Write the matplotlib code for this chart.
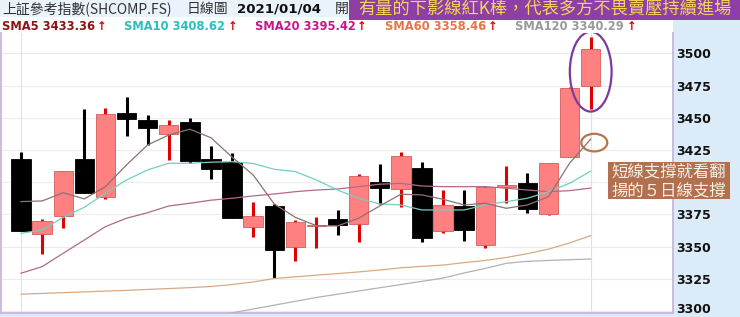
import matplotlib
matplotlib.use('Agg')
import matplotlib.pyplot as plt
from matplotlib.patches import Rectangle, Ellipse
from matplotlib.transforms import ScaledTranslation
import numpy as np

# ---------------- data ----------------
opens = [3417.8, 3359.8, 3373.8, 3418.0, 3388.7, 3453.5, 3448.3, 3437.2, 3446.5, 3417.8,
         3415.9, 3365.5, 3381.5, 3349.9, 3365.8, 3371.2, 3367.3, 3400.4, 3394.5, 3411.3,
         3362.3, 3381.8, 3351.2, 3396.2, 3399.1, 3375.1, 3419.8, 3475.0]
highs = [3423.7, 3371.4, 3408.7, 3457.1, 3457.6, 3465.9, 3452.2, 3448.3, 3449.6, 3428.3,
         3422.9, 3384.9, 3383.1, 3370.7, 3373.2, 3378.4, 3406.1, 3413.9, 3423.7, 3415.4,
         3393.9, 3393.9, 3397.0, 3412.6, 3406.9, 3414.7, 3474.2, 3512.5]
lows = [3362.1, 3344.3, 3364.2, 3391.4, 3387.0, 3435.9, 3428.9, 3417.2, 3414.7, 3402.7,
        3371.9, 3357.7, 3325.4, 3338.8, 3348.7, 3359.0, 3353.8, 3383.1, 3381.0, 3353.8,
        3360.3, 3354.3, 3348.7, 3383.6, 3376.3, 3374.3, 3419.8, 3456.8]
closes = [3362.1, 3369.6, 3408.7, 3391.4, 3452.7, 3449.1, 3442.3, 3444.4, 3416.5, 3410.2,
          3371.9, 3373.8, 3347.4, 3369.3, 3366.6, 3366.8, 3405.0, 3395.3, 3420.6, 3356.9,
          3382.3, 3362.9, 3396.0, 3396.8, 3379.0, 3414.7, 3473.4, 3503.4]

sma5 = [3384.9, 3385.4, 3391.8, 3387.0, 3396.5, 3413.4, 3428.9, 3436.6, 3441.1, 3434.5,
        3419.5, 3405.6, 3383.1, 3372.7, 3366.2, 3366.0, 3372.0, 3381.5, 3390.6, 3390.1,
        3386.7, 3382.3, 3383.6, 3379.7, 3382.3, 3388.7, 3414.7, 3433.4]
sma10 = [3360.3, 3362.9, 3372.7, 3380.5, 3391.4, 3401.7, 3409.5, 3414.7, 3414.7, 3415.5,
         3415.9, 3414.5, 3410.0, 3408.2, 3401.7, 3393.9, 3387.5, 3383.1, 3382.3, 3378.4,
         3378.4, 3378.4, 3382.3, 3384.9, 3387.5, 3392.6, 3399.1, 3408.6]
sma20 = [3329.3, 3334.4, 3344.8, 3355.1, 3365.5, 3372.0, 3376.3, 3381.5, 3383.6, 3386.0,
         3387.5, 3389.3, 3390.8, 3392.6, 3393.9, 3394.7, 3396.5, 3398.4, 3399.1, 3397.0,
         3396.5, 3396.5, 3396.5, 3395.3, 3393.9, 3392.6, 3393.4, 3395.4]
sma60 = [3313.0, 3313.6, 3314.2, 3314.8, 3315.4, 3316.0, 3316.7, 3317.4, 3318.1, 3319.0,
         3320.5, 3322.5, 3325.2, 3326.5, 3327.8, 3329.0, 3330.3, 3331.8, 3333.5, 3334.6,
         3335.6, 3337.5, 3339.2, 3341.5, 3344.5, 3348.0, 3352.8, 3358.5]
sma120 = [3270.0, 3273.0, 3276.0, 3279.0, 3282.0, 3285.0, 3288.0, 3291.0, 3294.0, 3296.0,
          3298.5, 3301.5, 3304.5, 3307.5, 3310.5, 3313.0, 3315.5, 3318.0, 3320.5, 3323.0,
          3325.5, 3329.5, 3333.0, 3337.0, 3338.5, 3339.2, 3339.8, 3340.3]

yticks = [3300, 3325, 3350, 3375, 3400, 3425, 3450, 3475, 3500]
ytick_labels = ["3300", "3325", "3350", "3375", "", "3425", "3450", "3475", "3500"]  # 3400 hidden under note box

title_text = "上証參考指數(SHCOMP.FS)"
chart_type = "日線圖"
date_text = "2021/01/04"
open_text = "開"
banner_text = "有量的下影線紅K棒，代表多方不畏賣壓持續進場"
note_lines = ["短線支撐就看翻", "揚的５日線支撐"]
sma_labels = ["SMA5 3433.36", "SMA10 3408.62", "SMA20 3395.42", "SMA60 3358.46", "SMA120 3340.29"]

# ---------------- styling ----------------
plt.rcParams['font.family'] = ['DejaVu Sans', 'Noto Sans CJK TC']
CJK = ['Noto Sans CJK TC', 'DejaVu Sans']

W, H = 740, 317
fig = plt.figure(figsize=(W / 100, H / 100), dpi=100)
fig.patch.set_facecolor('white')


def fx(x):
    return x / W


def fy(y):
    return 1 - y / H


def frect(x0, y0, x1, y1, **kw):
    r = Rectangle((fx(x0), fy(y1)), fx(x1) - fx(x0), fy(y0) - fy(y1),
                  transform=fig.transFigure, **kw)
    fig.add_artist(r)
    return r


# background panels
frect(0, 0, 740, 17, facecolor='#eaf3fb', edgecolor='none', zorder=0)
frect(673, 17, 740, 317, facecolor='#dcebf8', edgecolor='none', zorder=0)
frect(0, 313, 740, 317, facecolor='#dcebf8', edgecolor='none', zorder=0)

ax = fig.add_axes([fx(1), fy(312.5), fx(673) - fx(1), fy(33) - fy(312.5)])
ax.set_facecolor('white')
ax.set_xlim(-0.95, 30.9)
ax.set_ylim(3298.8, 3515.8)

for s in ['left', 'right', 'bottom']:
    ax.spines[s].set_color('#cbb4db')
    ax.spines[s].set_linewidth(1.3)
ax.spines['top'].set_visible(False)

ax.yaxis.tick_right()
ax.set_yticks(yticks)
ax.set_yticklabels(ytick_labels, fontweight='bold', fontsize=9, color='#111111')
ax.tick_params(axis='y', length=0, pad=2.5)
# lift the bottom label slightly so it stays inside the image
lbl0 = ax.get_yticklabels()[0]
lbl0.set_transform(lbl0.get_transform() + ScaledTranslation(0, 2 / 72, fig.dpi_scale_trans))
ax.set_xticks([])
for v in yticks:
    ax.axhline(v, color='#ececec', lw=0.8, zorder=0)
ax.axvline(0, color='#e0e0ea', lw=0.8, zorder=0)
ax.axvline(len(closes) - 1, color='#e0e0ea', lw=0.8, zorder=0)

x = np.arange(len(closes))
o = np.array(opens)
c = np.array(closes)
hi = np.array(highs)
lo = np.array(lows)
up = c >= o

wick_colors = np.where(up, '#e00000', '#000000')
ax.vlines(x, lo, hi, colors=list(wick_colors), lw=2.2, zorder=2)
bottoms = np.minimum(o, c)
heights = np.maximum(np.abs(c - o), 1.3)
face = np.where(up, '#ff8080', '#000000')
edge = np.where(up, '#d85a5a', '#000000')
ax.bar(x, heights, bottom=bottoms, width=0.92, color=list(face),
       edgecolor=list(edge), linewidth=0.6, zorder=3)

ax.plot(x, sma120, color='#b4b0b8', lw=0.9, zorder=4)
ax.plot(x, sma60, color='#d9a983', lw=0.9, zorder=4)
ax.plot(x, sma20, color='#b0698c', lw=0.9, zorder=4)
ax.plot(x, sma10, color='#70cfc2', lw=0.9, zorder=4)
ax.plot(x, sma5, color='#8a7272', lw=0.9, zorder=4)

# annotation ellipses
ax.add_patch(Ellipse((27.0, 3485.8), 1.98, 62.0, fill=False, edgecolor='#7d3a9e', lw=1.6, zorder=6))
ax.add_patch(Ellipse((27.17, 3430.7), 1.23, 13.7, fill=False, edgecolor='#b5754d', lw=1.6, zorder=6))

# ---------------- header texts ----------------
fig.text(fx(2), fy(8.5), title_text, family=CJK, fontsize=10, color='#333333', va='center', ha='left')
fig.text(fx(187), fy(8.5), chart_type, family=CJK, fontsize=10, color='#333333', va='center', ha='left')
fig.text(fx(237), fy(8.5), date_text, fontsize=9.6, fontweight='bold', color='#111111', va='center', ha='left')
fig.text(fx(335), fy(8.5), open_text, family=CJK, fontsize=10, color='#333333', va='center', ha='left')

sma_colors = ['#8b1414', '#2cbdbd', '#c8168c', '#e8744a', '#9a9a9a']
sma_x = [2, 124, 255, 385, 515]
arrow_x = [97, 228, 357, 488, 627]
for lab, col, xx, axx in zip(sma_labels, sma_colors, sma_x, arrow_x):
    fig.text(fx(xx), fy(26), lab, fontsize=8.3, fontweight='bold', color=col, va='center', ha='left')
    fig.text(fx(axx), fy(26), "↑", fontsize=8.3, fontweight='bold', color='#e00000', va='center', ha='left')

# purple banner
frect(349, 0, 740, 20, facecolor='#8e3fa6', edgecolor='none', zorder=5)
fig.text(fx(545), fy(10), banner_text, family=CJK, fontsize=12.4, color='#f3d35a',
         va='center', ha='center', zorder=6)

# brown note box
frect(608, 162, 730, 199, facecolor='#b3704f', edgecolor='none', zorder=5)
fig.text(fx(669), fy(171.5), note_lines[0], family=CJK, fontsize=11.8, color='#f7efe6',
         va='center', ha='center', zorder=6, linespacing=1.0)
fig.text(fx(669), fy(190.5), note_lines[1], family=CJK, fontsize=11.8, color='#f7efe6',
         va='center', ha='center', zorder=6, linespacing=1.0)

fig.savefig('out.png', dpi=100)
